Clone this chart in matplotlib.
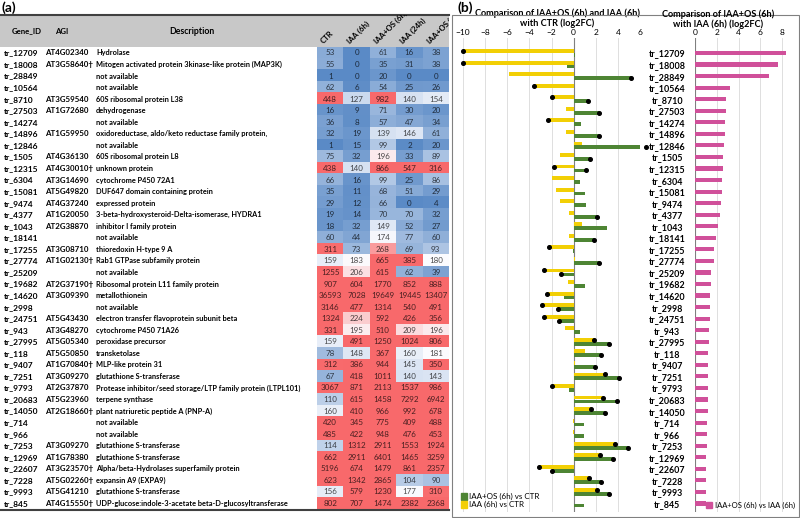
import numpy as np
import matplotlib.pyplot as plt
from matplotlib.patches import Rectangle, Patch

W, H = 800, 518
plt.rcParams['font.family'] = ['Lato', 'DejaVu Sans']

# ---- table (a) ----
gene_ids = ['tr_12709', 'tr_18008', 'tr_28849', 'tr_10564', 'tr_8710', 'tr_27503', 'tr_14274',
            'tr_14896', 'tr_12846', 'tr_1505', 'tr_12315', 'tr_6304', 'tr_15081', 'tr_9474',
            'tr_4377', 'tr_1043', 'tr_18141', 'tr_17255', 'tr_27774', 'tr_25209', 'tr_19682',
            'tr_14620', 'tr_2998', 'tr_24751', 'tr_943', 'tr_27995', 'tr_118', 'tr_9407',
            'tr_7251', 'tr_9793', 'tr_20683', 'tr_14050', 'tr_714', 'tr_966', 'tr_7253',
            'tr_12969', 'tr_22607', 'tr_7228', 'tr_9993', 'tr_845']
agi = ['AT4G02340', 'AT3G58640†', '', '', 'AT3G59540', 'AT1G72680', '', 'AT1G59950', '',
       'AT4G36130', 'AT4G30010†', 'AT3G14690', 'AT5G49820', 'AT4G37240', 'AT1G20050',
       'AT2G38870', '', 'AT3G08710', 'AT1G02130†', '', 'AT2G37190†', 'AT3G09390', '',
       'AT5G43430', 'AT3G48270', 'AT5G05340', 'AT5G50850', 'AT1G70840†', 'AT3G09270',
       'AT2G37870', 'AT5G23960', 'AT2G18660†', '', '', 'AT3G09270', 'AT1G78380',
       'AT3G23570†', 'AT5G02260†', 'AT5G41210', 'AT4G15550†']
descriptions = [
    'Hydrolase', 'Mitogen activated protein 3kinase-like protein (MAP3K)', 'not available',
    'not available', '60S ribosomal protein L38', 'dehydrogenase', 'not available',
    'oxidoreductase, aldo/keto reductase family protein,', 'not available',
    '60S ribosomal protein L8', 'unknown protein', 'cytochrome P450 72A1',
    'DUF647 domain containing protein', 'expressed protein',
    '3-beta-hydroxysteroid-Delta-isomerase, HYDRA1', 'inhibitor I family protein',
    'not available', 'thioredoxin H-type 9 A', 'Rab1 GTPase subfamily protein', 'not available',
    'Ribosomal protein L11 family protein', 'metallothionein', 'not available',
    'electron transfer flavoprotein subunit beta', 'cytochrome P450 71A26',
    'peroxidase precursor', 'transketolase', 'MLP-like protein 31', 'glutathione S-transferase',
    'Protease inhibitor/seed storage/LTP family protein (LTPL101)', 'terpene synthase',
    'plant natriuretic peptide A (PNP-A)', 'not available', 'not available',
    'glutathione S-transferase', 'glutathione S-transferase',
    'Alpha/beta-Hydrolases superfamily protein', 'expansin A9 (EXPA9)',
    'glutathione S-transferase', 'UDP-glucose:indole-3-acetate beta-D-glucosyltransferase']

conditions = ['CTR', 'IAA (6h)', 'IAA+OS (6h)', 'IAA (24h)', 'IAA+OS (24h)']
ctr = [53, 55, 1, 62, 448, 16, 36, 32, 1, 75, 438, 66, 35, 29, 19, 18, 60, 311, 159, 1255,
       907, 36593, 3146, 1324, 331, 159, 78, 312, 67, 3067, 110, 160, 420, 485, 114, 662,
       5196, 623, 156, 802]
iaa_6h = [0, 0, 0, 6, 127, 9, 8, 19, 15, 32, 140, 16, 11, 12, 14, 32, 44, 73, 183, 206,
          604, 7028, 477, 224, 195, 491, 148, 386, 418, 871, 615, 410, 345, 422, 1312, 2911,
          674, 1342, 579, 707]
iaa_os_6h = [61, 35, 20, 54, 982, 71, 57, 139, 99, 196, 866, 99, 68, 66, 70, 149, 174, 268,
             665, 615, 1770, 19649, 1314, 592, 510, 1250, 367, 944, 1011, 2113, 1458, 966,
             775, 948, 2911, 6401, 1479, 2865, 1230, 1474]
iaa_24h = [16, 31, 0, 25, 140, 30, 47, 146, 2, 33, 547, 25, 51, 0, 70, 52, 77, 69, 385, 62,
           852, 19445, 540, 426, 209, 1024, 160, 145, 140, 1537, 7292, 992, 409, 476, 1553,
           1465, 861, 104, 177, 2382]
iaa_os_24h = [38, 38, 0, 26, 154, 20, 34, 61, 20, 89, 316, 86, 29, 4, 32, 27, 60, 93, 180,
              39, 888, 13407, 491, 356, 196, 806, 181, 350, 143, 986, 6942, 678, 488, 453,
              1924, 3259, 2357, 90, 310, 2368]

# ---- chart (b) ----
fc_iaa_ctr = [-10, -10, -5.8, -3.6, -2.0, -0.7, -2.3, -0.7, 0.75, -1.2, -1.8, -2.0, -1.6,
              -1.25, -0.4, 0.8, -0.4, -2.2, 0.15, -2.7, -0.5, -2.45, -2.9, -2.7, -0.75, 1.85,
              1.0, 0.15, 2.85, -2.0, 2.7, 1.6, -0.1, -0.05, 3.7, 2.4, -3.1, 1.35, 2.1, 0.05]
fc_iaaos_ctr = [0.15, -0.6, 5.15, 0.05, 1.3, 2.3, 0.64, 2.3, 6.5, 1.5, 1.15, 0.6, 1.0, 1.15,
                2.1, 3.0, 1.8, -0.05, 2.25, -1.15, 1.0, -0.85, -1.45, -1.32, 0.6, 3.2, 2.5,
                1.9, 4.1, -0.45, 3.9, 2.8, 0.9, 0.95, 4.9, 3.55, -2.0, 2.45, 3.2, 0.9]
sig_iaa_ctr = [0, 1, 3, 4, 6, 10, 17, 19, 21, 22, 23, 25, 28, 29, 30, 31, 34, 35, 36, 37, 38]
sig_iaaos_ctr = [2, 4, 5, 7, 8, 9, 10, 14, 16, 18, 19, 22, 23, 25, 26, 27, 28, 30, 31, 34,
                 35, 36, 37, 38]
fc_iaaos_iaa = [8.37, 7.6, 6.83, 3.17, 2.86, 2.86, 2.77, 2.77, 2.68, 2.55, 2.55, 2.52, 2.52,
                2.37, 2.28, 2.15, 1.9, 1.78, 1.78, 1.48, 1.48, 1.42, 1.38, 1.35, 1.3, 1.3,
                1.23, 1.17, 1.23, 1.17, 1.17, 1.17, 1.1, 1.08, 1.08, 1.05, 1.05, 1.05, 1.0,
                0.98]

YELLOW = '#f2cf05'
GREEN = '#4e8534'
PINK = '#d0509a'
GRID = '#d9d9d9'


def px_rect(x0, y0, x1, y1):
    return [x0 / W, 1 - y1 / H, (x1 - x0) / W, (y1 - y0) / H]


# excel-like 3 colour scale (blue - white - red)
blue = np.array([90, 138, 198]) / 255
white = np.array([252, 252, 255]) / 255
red = np.array([248, 105, 107]) / 255
values = np.array([ctr, iaa_6h, iaa_os_6h, iaa_24h, iaa_os_24h], dtype=float).T
vmin, vmid, vhi = values.min(), np.median(values), np.percentile(values, 56)


def cell_rgb(v):
    if v <= vmid:
        t = (v - vmin) / (vmid - vmin)
        return blue + (white - blue) * t
    t = min((v - vmid) / (vhi - vmid), 1)
    return white + (red - white) * t


rgb = np.array([[cell_rgb(v) for v in row] for row in values])

fig = plt.figure(figsize=(W / 100, H / 100), dpi=100)

n = len(gene_ids)
rows = np.arange(n)

# header band
axh = fig.add_axes(px_rect(0, 15, 449, 47))
axh.set_xlim(0, 449)
axh.set_ylim(47, 15)
axh.set_facecolor('#c8c8c8')
for s in axh.spines.values():
    s.set_visible(False)
axh.spines['top'].set_visible(True)
axh.spines['top'].set_color('#404040')
axh.spines['top'].set_linewidth(1.5)
axh.set_xticks([])
axh.set_yticks([])
axh.text(12, 31, 'Gene_ID', fontsize=5.6, fontweight='bold', va='center')
axh.text(55, 31, 'AGI', fontsize=5.6, fontweight='bold', va='center')
axh.text(192, 31, 'Description', fontsize=6.3, fontweight='bold', va='center', ha='center')
col_w = (449 - 317) / len(conditions)
for j, c in enumerate(conditions):
    axh.text(317 + col_w * (j + 0.5) - 6, 44, c, fontsize=5.6, fontweight='bold', rotation=45,
             rotation_mode='anchor', ha='left', va='baseline', clip_on=True)

# text columns
axt = fig.add_axes(px_rect(0, 47.2, 317, 509.3))
axt.set_xlim(0, 317)
axt.set_ylim(n - 0.5, -0.5)
axt.axis('off')
for i in rows:
    axt.text(4, i, gene_ids[i], fontsize=6.0, fontweight='bold', va='center')
    axt.text(45, i, agi[i], fontsize=5.7, fontweight='bold', va='center')
    axt.text(96, i, descriptions[i], fontsize=5.35, fontweight='bold', va='center')

# heatmap
axm = fig.add_axes(px_rect(317, 47.2, 449, 509.3))
axm.imshow(rgb, aspect='auto', interpolation='nearest')
axm.set_xlim(-0.5, len(conditions) - 0.5)
axm.set_ylim(n - 0.5, -0.5)
axm.axis('off')
for i in rows:
    for j in range(len(conditions)):
        axm.text(j, i, f'{int(values[i, j])}', fontsize=5.8, ha='center', va='center',
                 color=rgb[i, j] * 0.3)

# bottom rule of the table
fig.add_artist(plt.Line2D([0, 449 / W], [1 - 510 / H] * 2, color='#404040', lw=1.5))

# panel b frame
fig.add_artist(Rectangle((452 / W, 1 - 517 / H), 347 / W, 502 / H, transform=fig.transFigure,
                         fill=False, ec='#808080', lw=0.8))
fig.text(2 / W, 1 - 8 / H, '(a)', fontsize=10, fontweight='bold', va='center')
fig.text(457 / W, 1 - 8 / H, '(b)', fontsize=10, fontweight='bold', va='center')

ylim_b = (39.74, -1.3)

# left chart: log2FC vs CTR
axl = fig.add_axes(px_rect(463, 38, 640, 512))
axl.set_xlim(-10, 6)
axl.set_ylim(*ylim_b)
axl.barh(rows - 0.17, fc_iaa_ctr, height=0.33, color=YELLOW, zorder=3)
axl.barh(rows + 0.17, fc_iaaos_ctr, height=0.33, color=GREEN, zorder=3)
axl.plot(np.array(fc_iaa_ctr)[sig_iaa_ctr], rows[sig_iaa_ctr] - 0.17, 'o', color='black',
         ms=2.6, zorder=4, clip_on=False)
axl.plot(np.array(fc_iaaos_ctr)[sig_iaaos_ctr], rows[sig_iaaos_ctr] + 0.17, 'o', color='black',
         ms=2.6, zorder=4, clip_on=False)
axl.axvline(0, color='#7f7f7f', lw=0.8, zorder=2)
axl.set_xticks(np.arange(-10, 7, 2))
axl.xaxis.tick_top()
axl.tick_params(axis='x', length=0, labelsize=6, pad=1.5)
axl.set_yticks([])
axl.grid(axis='x', color=GRID, lw=0.6, zorder=0)
for s in axl.spines.values():
    s.set_visible(False)
axl.annotate('Comparison of IAA+OS (6h) and IAA (6h)\nwith CTR (log2FC)', xy=(0.5, 1),
             xycoords='axes fraction', xytext=(4, 7), textcoords='offset points',
             ha='center', va='bottom', fontsize=6.6, fontweight='bold', linespacing=1.05)
axl.legend(handles=[Patch(color=GREEN, label='IAA+OS (6h) vs CTR'),
                    Patch(color=YELLOW, label='IAA (6h) vs CTR')],
           loc='lower left', bbox_to_anchor=(455 / W, 1 - 514 / H),
           bbox_transform=fig.transFigure, frameon=False, fontsize=5.8,
           handlelength=0.8, handleheight=0.8, handletextpad=0.3, labelspacing=0.1,
           borderpad=0.2)

# right chart: log2FC IAA+OS vs IAA
axr = fig.add_axes(px_rect(695, 38, 793, 512))
axr.set_xlim(0, 9)
axr.set_ylim(*ylim_b)
axr.barh(rows, fc_iaaos_iaa, height=0.36, color=PINK, zorder=3)
axr.axvline(0, color='#7f7f7f', lw=0.8, zorder=2)
axr.set_xticks(np.arange(0, 9, 2))
axr.xaxis.tick_top()
axr.tick_params(axis='x', length=0, labelsize=6, pad=1.5)
axr.set_yticks(rows)
axr.set_yticklabels(gene_ids)
axr.tick_params(axis='y', length=0, labelsize=6.4, pad=20)
for lab in axr.get_yticklabels():
    lab.set_ha('center')
    lab.set_fontweight('bold')
axr.grid(axis='x', color=GRID, lw=0.6, zorder=0)
for s in axr.spines.values():
    s.set_visible(False)
fig.text(718 / W, 1 - 29 / H, 'Comparison of IAA+OS (6h)\nwith IAA (6h) (log2FC)', ha='center',
         va='bottom', fontsize=6.6, fontweight='bold', linespacing=1.05)
axr.legend(handles=[Patch(color=PINK, label='IAA+OS (6h) vs IAA (6h)')],
           loc='lower right', bbox_to_anchor=(800 / W, 1 - 514 / H),
           bbox_transform=fig.transFigure, frameon=False, fontsize=5.5,
           handlelength=0.8, handleheight=0.8, handletextpad=0.3, borderpad=0.2)

fig.savefig('out.png', dpi=100)
